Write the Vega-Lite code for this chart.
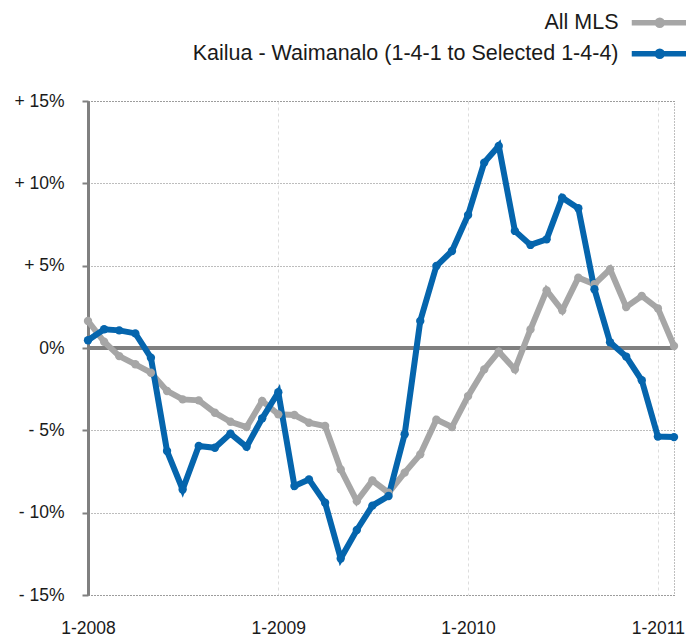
{
  "$schema": "https://vega.github.io/schema/vega-lite/v6.json",
  "width": 586,
  "height": 494,
  "autosize": "none",
  "padding": {"left": 88, "top": 101, "right": 12, "bottom": 42},
  "background": "white",
  "config": {
    "font": "Liberation Sans",
    "view": {"stroke": "#7f7f7f", "strokeDash": [1, 2], "strokeWidth": 1}
  },
  "layer": [
    {
      "data": {"values": [{"zero": 0}]},
      "mark": {"type": "rule", "color": "#808080", "strokeWidth": 4},
      "encoding": {
        "y": {
          "field": "zero",
          "type": "quantitative",
          "scale": {"domain": [-15, 15], "nice": false, "zero": false},
          "axis": {
            "title": null,
            "values": [-15, -10, -5, 0, 5, 10, 15],
            "labelExpr": "datum.value > 0 ? '+ ' + datum.value + '%' : (datum.value < 0 ? '- ' + abs(datum.value) + '%' : '0%')",
            "labelFontSize": 17.5,
            "labelColor": "#1a1a1a",
            "labelPadding": 18,
            "domainColor": "#808080",
            "domainWidth": 3,
            "tickColor": "#808080",
            "tickWidth": 2,
            "tickSize": 6,
            "grid": true,
            "gridColor": "#7a7a7a",
            "gridDash": [1, 2],
            "gridWidth": 1
          }
        }
      }
    },
    {
      "data": {
        "values": [
          {"date": "2008-01-01T00:00", "All MLS": 1.64, "Kailua - Waimanalo (1-4-1 to Selected 1-4-4)": 0.47},
          {"date": "2008-02-01T00:00", "All MLS": 0.38, "Kailua - Waimanalo (1-4-1 to Selected 1-4-4)": 1.14},
          {"date": "2008-03-01T00:00", "All MLS": -0.49, "Kailua - Waimanalo (1-4-1 to Selected 1-4-4)": 1.07},
          {"date": "2008-04-01T00:00", "All MLS": -0.99, "Kailua - Waimanalo (1-4-1 to Selected 1-4-4)": 0.89},
          {"date": "2008-05-01T00:00", "All MLS": -1.5, "Kailua - Waimanalo (1-4-1 to Selected 1-4-4)": -0.59},
          {"date": "2008-06-01T00:00", "All MLS": -2.61, "Kailua - Waimanalo (1-4-1 to Selected 1-4-4)": -6.26},
          {"date": "2008-07-01T00:00", "All MLS": -3.12, "Kailua - Waimanalo (1-4-1 to Selected 1-4-4)": -8.59},
          {"date": "2008-08-01T00:00", "All MLS": -3.18, "Kailua - Waimanalo (1-4-1 to Selected 1-4-4)": -5.95},
          {"date": "2008-09-01T00:00", "All MLS": -3.93, "Kailua - Waimanalo (1-4-1 to Selected 1-4-4)": -6.06},
          {"date": "2008-10-01T00:00", "All MLS": -4.48, "Kailua - Waimanalo (1-4-1 to Selected 1-4-4)": -5.2},
          {"date": "2008-11-01T00:00", "All MLS": -4.8, "Kailua - Waimanalo (1-4-1 to Selected 1-4-4)": -6.0},
          {"date": "2008-12-01T00:00", "All MLS": -3.22, "Kailua - Waimanalo (1-4-1 to Selected 1-4-4)": -4.27},
          {"date": "2009-01-01T00:00", "All MLS": -4.03, "Kailua - Waimanalo (1-4-1 to Selected 1-4-4)": -2.69},
          {"date": "2009-02-01T00:00", "All MLS": -4.07, "Kailua - Waimanalo (1-4-1 to Selected 1-4-4)": -8.38},
          {"date": "2009-03-01T00:00", "All MLS": -4.54, "Kailua - Waimanalo (1-4-1 to Selected 1-4-4)": -7.98},
          {"date": "2009-04-01T00:00", "All MLS": -4.74, "Kailua - Waimanalo (1-4-1 to Selected 1-4-4)": -9.4},
          {"date": "2009-05-01T00:00", "All MLS": -7.37, "Kailua - Waimanalo (1-4-1 to Selected 1-4-4)": -12.78},
          {"date": "2009-06-01T00:00", "All MLS": -9.3, "Kailua - Waimanalo (1-4-1 to Selected 1-4-4)": -11.05},
          {"date": "2009-07-01T00:00", "All MLS": -8.05, "Kailua - Waimanalo (1-4-1 to Selected 1-4-4)": -9.57},
          {"date": "2009-08-01T00:00", "All MLS": -8.79, "Kailua - Waimanalo (1-4-1 to Selected 1-4-4)": -8.99},
          {"date": "2009-09-01T00:00", "All MLS": -7.57, "Kailua - Waimanalo (1-4-1 to Selected 1-4-4)": -5.24},
          {"date": "2009-10-01T00:00", "All MLS": -6.46, "Kailua - Waimanalo (1-4-1 to Selected 1-4-4)": 1.64},
          {"date": "2009-11-01T00:00", "All MLS": -4.35, "Kailua - Waimanalo (1-4-1 to Selected 1-4-4)": 4.98},
          {"date": "2009-12-01T00:00", "All MLS": -4.8, "Kailua - Waimanalo (1-4-1 to Selected 1-4-4)": 5.89},
          {"date": "2010-01-01T00:00", "All MLS": -2.92, "Kailua - Waimanalo (1-4-1 to Selected 1-4-4)": 8.08},
          {"date": "2010-02-01T00:00", "All MLS": -1.3, "Kailua - Waimanalo (1-4-1 to Selected 1-4-4)": 11.26},
          {"date": "2010-03-01T00:00", "All MLS": -0.22, "Kailua - Waimanalo (1-4-1 to Selected 1-4-4)": 12.27},
          {"date": "2010-04-01T00:00", "All MLS": -1.3, "Kailua - Waimanalo (1-4-1 to Selected 1-4-4)": 7.11},
          {"date": "2010-05-01T00:00", "All MLS": 1.13, "Kailua - Waimanalo (1-4-1 to Selected 1-4-4)": 6.26},
          {"date": "2010-06-01T00:00", "All MLS": 3.5, "Kailua - Waimanalo (1-4-1 to Selected 1-4-4)": 6.6},
          {"date": "2010-07-01T00:00", "All MLS": 2.29, "Kailua - Waimanalo (1-4-1 to Selected 1-4-4)": 9.13},
          {"date": "2010-08-01T00:00", "All MLS": 4.27, "Kailua - Waimanalo (1-4-1 to Selected 1-4-4)": 8.49},
          {"date": "2010-09-01T00:00", "All MLS": 3.87, "Kailua - Waimanalo (1-4-1 to Selected 1-4-4)": 3.57},
          {"date": "2010-10-01T00:00", "All MLS": 4.78, "Kailua - Waimanalo (1-4-1 to Selected 1-4-4)": 0.35},
          {"date": "2010-11-01T00:00", "All MLS": 2.49, "Kailua - Waimanalo (1-4-1 to Selected 1-4-4)": -0.52},
          {"date": "2010-12-01T00:00", "All MLS": 3.16, "Kailua - Waimanalo (1-4-1 to Selected 1-4-4)": -1.96},
          {"date": "2011-01-01T00:00", "All MLS": 2.41, "Kailua - Waimanalo (1-4-1 to Selected 1-4-4)": -5.38},
          {"date": "2011-02-01T00:00", "All MLS": 0.12, "Kailua - Waimanalo (1-4-1 to Selected 1-4-4)": -5.41}
        ]
      },
      "transform": [
        {"fold": ["All MLS", "Kailua - Waimanalo (1-4-1 to Selected 1-4-4)"], "as": ["series", "value"]}
      ],
      "mark": {"type": "line", "strokeWidth": 6, "point": {"filled": true, "size": 70}},
      "encoding": {
        "x": {
          "field": "date",
          "type": "temporal",
          "scale": {"domain": [{"year": 2008, "month": 1, "date": 1}, {"year": 2011, "month": 2, "date": 1}]},
          "axis": {
            "title": null,
            "values": [
              {"year": 2008, "month": 1, "date": 1},
              {"year": 2009, "month": 1, "date": 1},
              {"year": 2010, "month": 1, "date": 1},
              {"year": 2011, "month": 1, "date": 1}
            ],
            "format": "%-m-%Y",
            "domain": false,
            "ticks": false,
            "labelPadding": 24,
            "labelFontSize": 17.5,
            "labelColor": "#1a1a1a",
            "labelFlush": false,
            "labelOverlap": false,
            "grid": true,
            "gridColor": "#dddddd",
            "gridDash": [3, 3],
            "gridWidth": 1
          }
        },
        "y": {
          "field": "value",
          "type": "quantitative",
          "scale": {"domain": [-15, 15], "nice": false, "zero": false},
          "axis": {
            "title": null,
            "values": [-15, -10, -5, 0, 5, 10, 15],
            "labelExpr": "datum.value > 0 ? '+ ' + datum.value + '%' : (datum.value < 0 ? '- ' + abs(datum.value) + '%' : '0%')",
            "labelFontSize": 17.5,
            "labelColor": "#1a1a1a",
            "labelPadding": 18,
            "domainColor": "#808080",
            "domainWidth": 3,
            "tickColor": "#808080",
            "tickWidth": 2,
            "tickSize": 6,
            "grid": true,
            "gridColor": "#7a7a7a",
            "gridDash": [1, 2],
            "gridWidth": 1
          }
        },
        "color": {
          "field": "series",
          "type": "nominal",
          "scale": {
            "domain": ["All MLS", "Kailua - Waimanalo (1-4-1 to Selected 1-4-4)"],
            "range": ["#a6a6a6", "#0565ad"]
          },
          "legend": {
            "orient": "none",
            "legendX": 561,
            "legendY": -89,
            "title": null,
            "padding": 0,
            "symbolType": "M-5.6,0H5.6M0.5,0A0.5,0.5,0,1,1,-0.5,0A0.5,0.5,0,1,1,0.5,0",
            "symbolSize": 100,
            "symbolStrokeWidth": 5.5,
            "symbolOffset": 0,
            "labelAlign": "right",
            "labelOffset": -52,
            "labelFontSize": 21.5,
            "labelColor": "#1a1a1a",
            "labelLimit": 0,
            "rowPadding": 3
          }
        }
      }
    }
  ]
}
